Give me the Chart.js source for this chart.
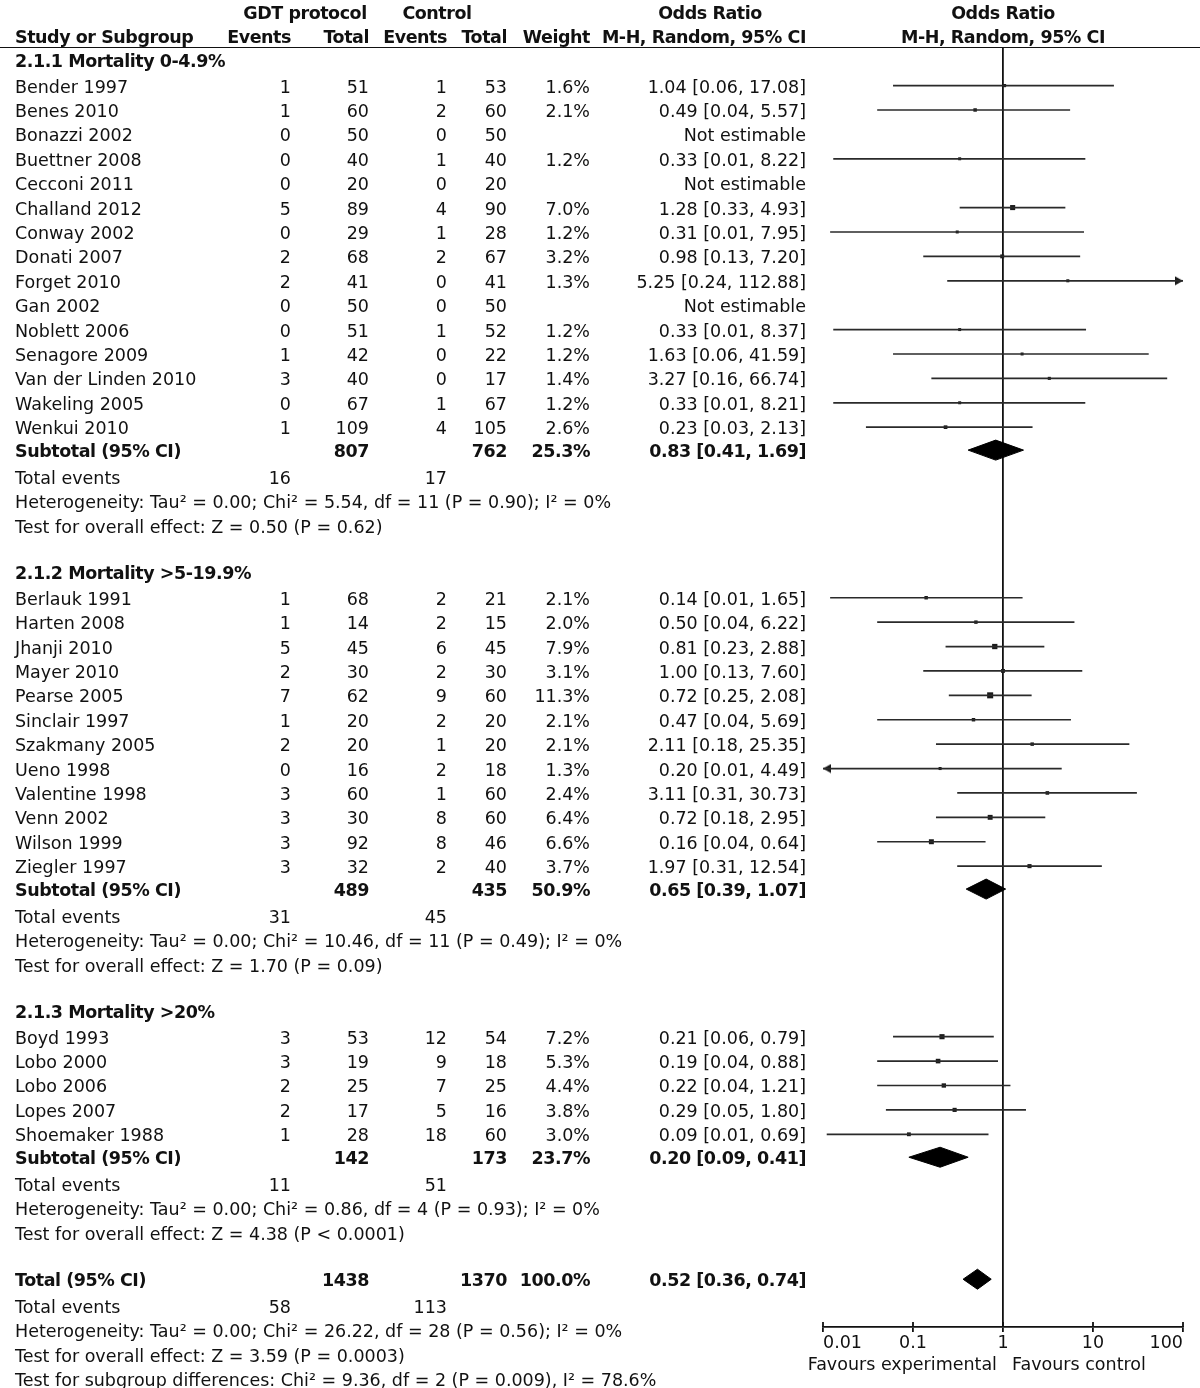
<!DOCTYPE html>
<html>
<head>
<meta charset="utf-8">
<script src="https://cdn.jsdelivr.net/npm/chart.js@4.4.1/dist/chart.umd.min.js"></script>
<style>
  html, body { margin: 0; padding: 0; background: #fff; }
  #wrap { position: relative; width: 1200px; height: 1388px; overflow: hidden; }
  #plot { position: absolute; left: 0; top: 0; }
  #txt { position: absolute; left: 0; top: 0; width: 1200px; height: 1388px;
         font-family: "DejaVu Sans", sans-serif; font-size: 17.5px; color: #111; }
  #txt div { position: absolute; white-space: nowrap; line-height: 20px; }
  #txt .b { font-weight: bold; letter-spacing: -0.45px; }
  #rule { position: absolute; left: 0; top: 47px; width: 1200px; border-top: 1.5px solid #111; }
</style>
</head>
<body>
<div id="wrap">
  <canvas id="plot" width="1200" height="1388"></canvas>
  <div id="txt"></div>
  <div id="rule"></div>
</div>
<script>
// ---- data ----
const groupLabels = ["2.1.1 Mortality 0-4.9%", "2.1.2 Mortality >5-19.9%", "2.1.3 Mortality >20%"];

const studyNames = [
  "Bender 1997", "Benes 2010", "Bonazzi 2002", "Buettner 2008", "Cecconi 2011",
  "Challand 2012", "Conway 2002", "Donati 2007", "Forget 2010", "Gan 2002",
  "Noblett 2006", "Senagore 2009", "Van der Linden 2010", "Wakeling 2005", "Wenkui 2010",
  "Berlauk 1991", "Harten 2008", "Jhanji 2010", "Mayer 2010", "Pearse 2005",
  "Sinclair 1997", "Szakmany 2005", "Ueno 1998", "Valentine 1998", "Venn 2002",
  "Wilson 1999", "Ziegler 1997",
  "Boyd 1993", "Lobo 2000", "Lobo 2006", "Lopes 2007", "Shoemaker 1988"
];
const studyGroup = [0,0,0,0,0,0,0,0,0,0,0,0,0,0,0, 1,1,1,1,1,1,1,1,1,1,1,1, 2,2,2,2,2];
const gdtEvents = [1,1,0,0,0,5,0,2,2,0,0,1,3,0,1, 1,1,5,2,7,1,2,0,3,3,3,3, 3,3,2,2,1];
const gdtTotals = [51,60,50,40,20,89,29,68,41,50,51,42,40,67,109, 68,14,45,30,62,20,20,16,60,30,92,32, 53,19,25,17,28];
const ctlEvents = [1,2,0,1,0,4,1,2,0,0,1,0,0,1,4, 2,2,6,2,9,2,1,2,1,8,8,2, 12,9,7,5,18];
const ctlTotals = [53,60,50,40,20,90,28,67,41,50,52,22,17,67,105, 21,15,45,30,60,20,20,18,60,60,46,40, 54,18,25,16,60];
const weights = [1.6,2.1,null,1.2,null,7.0,1.2,3.2,1.3,null,1.2,1.2,1.4,1.2,2.6,
                 2.1,2.0,7.9,3.1,11.3,2.1,2.1,1.3,2.4,6.4,6.6,3.7,
                 7.2,5.3,4.4,3.8,3.0];
const oddsRatios = [1.04,0.49,null,0.33,null,1.28,0.31,0.98,5.25,null,0.33,1.63,3.27,0.33,0.23,
                    0.14,0.50,0.81,1.00,0.72,0.47,2.11,0.20,3.11,0.72,0.16,1.97,
                    0.21,0.19,0.22,0.29,0.09];
const ciLower = [0.06,0.04,null,0.013,null,0.33,0.012,0.13,0.24,null,0.013,0.06,0.16,0.013,0.03,
                 0.012,0.04,0.23,0.13,0.25,0.04,0.18,0.009,0.31,0.18,0.04,0.31,
                 0.06,0.04,0.04,0.05,0.011];
const ciUpper = [17.08,5.57,null,8.22,null,4.93,7.95,7.20,112.88,null,8.37,41.59,66.74,8.21,2.13,
                 1.65,6.22,2.88,7.60,2.08,5.69,25.35,4.49,30.73,2.95,0.64,12.54,
                 0.79,0.88,1.21,1.80,0.69];

const subGdtTotals = [807, 489, 142];
const subCtlTotals = [762, 435, 173];
const subWeights = [25.3, 50.9, 23.7];
const subOdds = [0.83, 0.65, 0.20];
const subLower = [0.41, 0.39, 0.09];
const subUpper = [1.69, 1.07, 0.41];
const subGdtEvents = [16, 31, 11];
const subCtlEvents = [17, 45, 51];
const subHeterogeneity = [
  "Heterogeneity: Tau\u00b2 = 0.00; Chi\u00b2 = 5.54, df = 11 (P = 0.90); I\u00b2 = 0%",
  "Heterogeneity: Tau\u00b2 = 0.00; Chi\u00b2 = 10.46, df = 11 (P = 0.49); I\u00b2 = 0%",
  "Heterogeneity: Tau\u00b2 = 0.00; Chi\u00b2 = 0.86, df = 4 (P = 0.93); I\u00b2 = 0%"
];
const subOverall = [
  "Test for overall effect: Z = 0.50 (P = 0.62)",
  "Test for overall effect: Z = 1.70 (P = 0.09)",
  "Test for overall effect: Z = 4.38 (P < 0.0001)"
];

const totalTotals = [1438, 1370];
const totalEvents = [58, 113];
const totalWeight = 100.0;
const totalOdds = [0.52, 0.36, 0.74];
const totalNotes = [
  "Heterogeneity: Tau\u00b2 = 0.00; Chi\u00b2 = 26.22, df = 28 (P = 0.56); I\u00b2 = 0%",
  "Test for overall effect: Z = 3.59 (P = 0.0003)",
  "Test for subgroup differences: Chi\u00b2 = 9.36, df = 2 (P = 0.009), I\u00b2 = 78.6%"
];

const axisTicks = [0.01, 0.1, 1, 10, 100];
const axisTickLabels = ["0.01", "0.1", "1", "10", "100"];
const favourLabels = ["Favours experimental", "Favours control"];

// ---- layout (row units, 1 row ~ 24.4px) ----
const W = 1200;
const ROW_PX = 24.4;
const Y_MAX = 1279 / ROW_PX;
const INK = "#111";
const COL = { name: 15, gdtE: 291, gdtT: 369, ctlE: 447, ctlT: 507, wt: 590, ci: 806 };

const studyY = [], subY = [], textRows = [];
let cur = 0.49;
groupLabels.forEach((label, g) => {
  if (g) cur += 1.9;
  textRows.push({ y: cur, bold: true, cells: [[label, "l", COL.name]] });
  cur += 0.05;
  studyNames.forEach((name, i) => {
    if (studyGroup[i] !== g) return;
    cur += 1;
    studyY[i] = cur;
    const est = oddsRatios[i] != null;
    textRows.push({ y: cur, cells: [
      [name, "l", COL.name],
      [String(gdtEvents[i]), "r", COL.gdtE], [String(gdtTotals[i]), "r", COL.gdtT],
      [String(ctlEvents[i]), "r", COL.ctlE], [String(ctlTotals[i]), "r", COL.ctlT],
      [est ? weights[i].toFixed(1) + "%" : "", "r", COL.wt],
      [est ? ciText(oddsRatios[i], ciLower[i], ciUpper[i]) : "Not estimable", "r", COL.ci]
    ]});
  });
  cur += 0.94;
  subY[g] = cur;
  textRows.push({ y: cur, bold: true, cells: [
    ["Subtotal (95% CI)", "l", COL.name],
    [String(subGdtTotals[g]), "r", COL.gdtT], [String(subCtlTotals[g]), "r", COL.ctlT],
    [subWeights[g].toFixed(1) + "%", "r", COL.wt],
    [ciText(subOdds[g], subLower[g], subUpper[g]), "r", COL.ci]
  ]});
  cur += 1.1;
  textRows.push({ y: cur, cells: [["Total events", "l", COL.name],
    [String(subGdtEvents[g]), "r", COL.gdtE], [String(subCtlEvents[g]), "r", COL.ctlE]] });
  cur += 1;
  textRows.push({ y: cur, cells: [[subHeterogeneity[g], "l", COL.name]] });
  cur += 1;
  textRows.push({ y: cur, cells: [[subOverall[g], "l", COL.name]] });
});
cur += 1.9;
const totalY = cur;
textRows.push({ y: cur, bold: true, cells: [
  ["Total (95% CI)", "l", COL.name],
  [String(totalTotals[0]), "r", COL.gdtT], [String(totalTotals[1]), "r", COL.ctlT],
  [totalWeight.toFixed(1) + "%", "r", COL.wt],
  [ciText(totalOdds[0], totalOdds[1], totalOdds[2]), "r", COL.ci]
]});
cur += 1.1;
textRows.push({ y: cur, cells: [["Total events", "l", COL.name],
  [String(totalEvents[0]), "r", COL.gdtE], [String(totalEvents[1]), "r", COL.ctlE]] });
totalNotes.forEach(n => { cur += 1; textRows.push({ y: cur, cells: [[n, "l", COL.name]] }); });

function ciText(o, l, h) { return `${o.toFixed(2)} [${l.toFixed(2)}, ${h.toFixed(2)}]`; }

// ---- datasets ----
const datasets = [];
const xMin = axisTicks[0], xMax = axisTicks[axisTicks.length - 1];

studyNames.forEach((n, i) => {
  if (oddsRatios[i] == null) return;
  datasets.push({
    data: [{ x: ciLower[i], y: studyY[i] }, { x: ciUpper[i], y: studyY[i] }],
    borderColor: "#2a2a2a", borderWidth: 1.7, pointRadius: 0
  });
});

const shown = studyNames.map((n, i) => i).filter(i => oddsRatios[i] != null);
datasets.push({
  data: shown.map(i => ({ x: oddsRatios[i], y: studyY[i] })),
  showLine: false, pointStyle: "rect", backgroundColor: "#1a1a1a", borderWidth: 0,
  pointRadius: c => (1.5 + 1.35 * Math.sqrt(weights[shown[c.dataIndex]])) / (2 * Math.SQRT1_2)
});

function diamond(o, l, h, y) {
  const hh = 10 / ROW_PX;
  return {
    data: [{ x: l, y }, { x: o, y: y - hh }, { x: h, y }, { x: o, y: y + hh }, { x: l, y }],
    fill: "shape", backgroundColor: "#000", borderColor: "#000", borderWidth: 1, pointRadius: 0
  };
}
subOdds.forEach((o, g) => datasets.push(diamond(o, subLower[g], subUpper[g], subY[g])));
datasets.push(diamond(totalOdds[0], totalOdds[1], totalOdds[2], totalY));

function arrowHead(dir) {
  const c = document.createElement("canvas");
  c.width = 18; c.height = 10;
  const g = c.getContext("2d");
  g.fillStyle = "#1a1a1a";
  g.beginPath();
  g.moveTo(9, 5);
  g.lineTo(9 - dir * 8, 0.5);
  g.lineTo(9 - dir * 8, 9.5);
  g.closePath();
  g.fill();
  return c;
}
const rightIdx = shown.filter(i => ciUpper[i] > xMax);
const leftIdx = shown.filter(i => ciLower[i] < xMin);
datasets.push({ data: rightIdx.map(i => ({ x: xMax, y: studyY[i] })), showLine: false,
  pointStyle: arrowHead(1), pointRadius: 5, clip: false });
datasets.push({ data: leftIdx.map(i => ({ x: xMin, y: studyY[i] })), showLine: false,
  pointStyle: arrowHead(-1), pointRadius: 5, clip: false });

// short tick stubs above the axis line
const crossTicks = {
  id: "crossTicks",
  afterDraw(chart) {
    const { ctx, chartArea, scales: { x } } = chart;
    ctx.save();
    ctx.strokeStyle = INK;
    ctx.lineWidth = 1.8;
    x.ticks.forEach((t, i) => {
      const px = x.getPixelForTick(i);
      ctx.beginPath();
      ctx.moveTo(px, chartArea.bottom - 5);
      ctx.lineTo(px, chartArea.bottom);
      ctx.stroke();
    });
    ctx.restore();
  }
};

const chart = new Chart(document.getElementById("plot"), {
  type: "line",
  data: { datasets },
  options: {
    responsive: false,
    animation: false,
    layout: { padding: { left: 823, right: 17, top: 48, bottom: 0 } },
    plugins: { legend: { display: false }, tooltip: { enabled: false } },
    scales: {
      x: {
        type: "logarithmic", min: xMin, max: xMax,
        afterBuildTicks: s => { s.ticks = axisTicks.map(v => ({ value: v })); },
        afterFit: s => { s.height = 61; },
        ticks: {
          callback: v => axisTickLabels[axisTicks.indexOf(v)],
          align: "inner", autoSkip: false, maxRotation: 0, padding: 1,
          color: INK, font: { family: "DejaVu Sans", size: 17.5 }
        },
        grid: {
          color: c => (c.tick && c.tick.value === 1 ? INK : "rgba(0,0,0,0)"),
          lineWidth: 1.8, tickColor: INK, tickWidth: 1.8, tickLength: 5
        },
        border: { color: INK, width: 1.8 }
      },
      y: { type: "linear", reverse: true, min: 0, max: Y_MAX, display: false }
    }
  },
  plugins: [crossTicks]
});

// ---- table text as HTML, placed on the chart's own y scale ----
const yS = chart.scales.y, xS = chart.scales.x;
const txt = document.getElementById("txt");
function put(text, align, x, top, bold) {
  const d = document.createElement("div");
  d.textContent = text;
  d.style.top = top + "px";
  if (align === "r") d.style.right = (W - x) + "px";
  else if (align === "c") { d.style.left = x + "px"; d.style.transform = "translateX(-50%)"; }
  else d.style.left = x + "px";
  if (bold) d.className = "b";
  txt.appendChild(d);
}
const rowTop = v => yS.getPixelForValue(v) - 9;
const x1 = xS.getPixelForValue(1);

const h1 = rowTop(-1.47), h2 = rowTop(-0.49);
put("GDT protocol", "c", 305, h1, true);
put("Control", "c", 437, h1, true);
put("Odds Ratio", "c", 710, h1, true);
put("Odds Ratio", "c", x1, h1, true);
[["Study or Subgroup", "l", COL.name], ["Events", "r", COL.gdtE], ["Total", "r", COL.gdtT],
 ["Events", "r", COL.ctlE], ["Total", "r", COL.ctlT], ["Weight", "r", COL.wt],
 ["M-H, Random, 95% CI", "r", COL.ci], ["M-H, Random, 95% CI", "c", x1]]
  .forEach(([t, a, x]) => put(t, a, x, h2, true));

textRows.forEach(r => r.cells.forEach(([t, a, x]) => { if (t) put(t, a, x, rowTop(r.y), r.bold); }));

const favTop = chart.chartArea.bottom + 27;
put(favourLabels[0], "r", x1 - 6, favTop, false);
put(favourLabels[1], "l", x1 + 9, favTop, false);
</script>
</body>
</html>
